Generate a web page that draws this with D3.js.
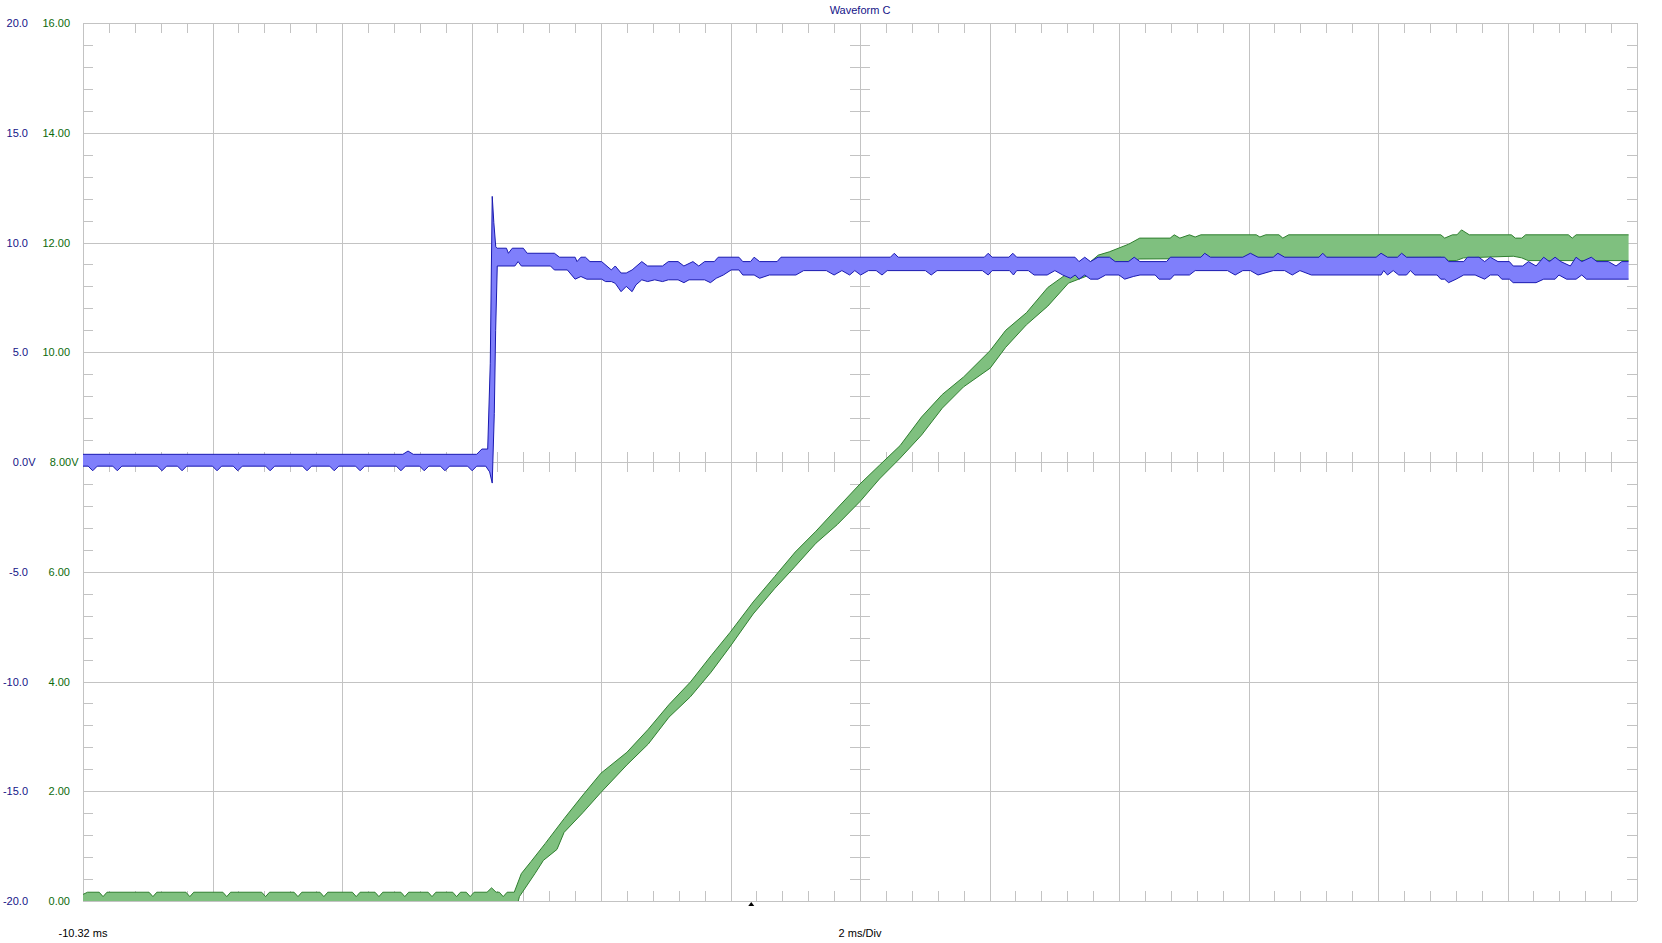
<!DOCTYPE html>
<html><head><meta charset="utf-8">
<script src="https://cdn.jsdelivr.net/npm/d3@7"></script>
<style>
html,body{margin:0;padding:0;background:#fff;overflow:hidden;}
svg{display:block;font-family:"Liberation Sans",Arial,sans-serif;}
</style></head><body>
<svg id="chart" width="1662" height="943"></svg>
<script>
// ---------------- data ----------------
const title = "Waveform C";
const timeGrid = [-10.32,-8.32,-6.32,-4.32,-2.32,-0.32,1.68,3.68,5.68,7.68,9.68,11.68,13.68];
const timeStartLabel = "-10.32 ms";
const timeBaseLabel = "2 ms/Div";
const triggerTime = 0;
const blueTicks = [20,15,10,5,0,-5,-10,-15,-20];
const blueLabels = ["20.0","15.0","10.0","5.0","0.0V","-5.0","-10.0","-15.0","-20.0"];
const greenTicks = [16,14,12,10,8,6,4,2,0];
const greenLabels = ["16.00","14.00","12.00","10.00","8.00V","6.00","4.00","2.00","0.00"];

// Channel A (blue, V) envelope: [time ms, value]
const blueUpper = [[-10.32,0.35],[-5.38,0.35],[-5.30,0.50],[-5.22,0.35],[-4.24,0.35],[-4.16,0.59],[-4.07,0.59],[-4.03,4.5],[-4.00,12.1],[-3.975,10.9],[-3.945,9.8],[-3.925,9.74],[-3.78,9.74],[-3.75,9.51],[-3.69,9.74],[-3.52,9.74],[-3.46,9.51],[-3.04,9.51],[-2.96,9.33],[-2.72,9.33],[-2.69,9.13],[-2.63,9.33],[-2.56,9.33],[-2.49,9.13],[-2.31,9.13],[-2.16,8.75],[-2.10,8.93],[-2.01,8.61],[-1.93,8.61],[-1.84,8.75],[-1.69,9.13],[-1.60,8.93],[-1.37,8.93],[-1.28,9.13],[-1.13,9.13],[-1.04,8.93],[-0.90,9.13],[-0.81,8.93],[-0.72,9.13],[-0.57,9.13],[-0.51,9.33],[-0.19,9.33],[-0.13,9.13],[-0.01,9.13],[0.045,9.33],[0.13,9.13],[0.40,9.13],[0.46,9.33],[2.15,9.33],[2.21,9.51],[2.27,9.33],[3.60,9.33],[3.66,9.51],[3.72,9.33],[3.98,9.33],[4.04,9.51],[4.10,9.33],[5.00,9.33],[5.062,9.13],[5.151,9.33],[5.239,9.13],[5.356,9.33],[5.533,9.33],[5.621,9.13],[5.827,9.13],[5.915,9.33],[6.004,9.13],[6.415,9.13],[6.474,9.33],[6.945,9.33],[7.004,9.51],[7.092,9.33],[7.592,9.33],[7.709,9.51],[7.827,9.33],[8.062,9.33],[8.133,9.51],[8.239,9.33],[8.768,9.33],[8.827,9.51],[8.886,9.33],[9.651,9.33],[9.727,9.51],[9.827,9.33],[9.98,9.33],[10.045,9.51],[10.121,9.33],[10.71,9.33],[10.77,9.13],[11.004,9.13],[11.062,9.33],[11.239,9.33],[11.327,9.13],[11.415,9.33],[11.533,9.13],[11.709,9.13],[11.768,8.93],[11.915,8.93],[12.004,9.13],[12.121,8.93],[12.239,9.33],[12.327,9.13],[12.415,9.33],[12.504,9.13],[12.65,8.93],[12.739,9.33],[12.827,9.13],[12.974,9.33],[13.062,9.13],[13.239,9.13],[13.356,8.93],[13.445,9.13],[13.55,9.13]];
const blueLower = [[-10.32,-0.19],[-10.24,-0.19],[-10.17,-0.40],[-10.10,-0.19],[-9.86,-0.19],[-9.79,-0.40],[-9.72,-0.19],[-9.17,-0.19],[-9.10,-0.40],[-9.03,-0.19],[-8.86,-0.19],[-8.79,-0.40],[-8.72,-0.19],[-8.32,-0.19],[-8.25,-0.40],[-8.18,-0.19],[-8.00,-0.19],[-7.93,-0.40],[-7.86,-0.19],[-7.50,-0.19],[-7.43,-0.40],[-7.36,-0.19],[-6.93,-0.19],[-6.86,-0.40],[-6.79,-0.19],[-6.51,-0.19],[-6.44,-0.40],[-6.37,-0.19],[-6.11,-0.19],[-6.04,-0.40],[-5.97,-0.19],[-5.48,-0.19],[-5.41,-0.40],[-5.34,-0.19],[-5.12,-0.19],[-5.05,-0.40],[-4.98,-0.19],[-4.80,-0.19],[-4.73,-0.40],[-4.66,-0.19],[-4.38,-0.19],[-4.31,-0.40],[-4.24,-0.19],[-4.10,-0.19],[-4.04,-0.45],[-4.00,-0.96],[-3.968,2.2],[-3.947,6.0],[-3.922,8.93],[-3.65,8.93],[-3.60,9.13],[-3.55,8.93],[-3.10,8.93],[-3.04,8.75],[-2.84,8.75],[-2.72,8.33],[-2.63,8.45],[-2.54,8.33],[-2.31,8.33],[-2.25,8.22],[-2.16,8.22],[-2.10,8.14],[-2.01,7.76],[-1.93,8.0],[-1.84,7.76],[-1.78,8.07],[-1.69,8.30],[-1.60,8.22],[-1.49,8.30],[-1.37,8.22],[-1.28,8.30],[-1.13,8.30],[-1.04,8.17],[-0.96,8.30],[-0.72,8.30],[-0.63,8.17],[-0.54,8.37],[-0.43,8.52],[-0.31,8.75],[-0.19,8.75],[-0.13,8.52],[0.045,8.52],[0.13,8.37],[0.28,8.52],[0.69,8.52],[0.81,8.72],[1.16,8.72],[1.28,8.52],[1.40,8.72],[1.52,8.52],[1.60,8.72],[1.69,8.52],[1.81,8.72],[1.93,8.72],[2.02,8.52],[2.10,8.72],[2.69,8.72],[2.78,8.52],[2.87,8.72],[3.57,8.72],[3.66,8.52],[3.72,8.72],[3.99,8.72],[4.05,8.52],[4.10,8.72],[4.28,8.72],[4.37,8.52],[4.57,8.52],[4.69,8.72],[4.81,8.52],[4.93,8.37],[5.004,8.52],[5.062,8.33],[5.151,8.52],[5.239,8.33],[5.356,8.33],[5.474,8.52],[5.68,8.52],[5.768,8.33],[5.90,8.45],[6.004,8.52],[6.239,8.52],[6.298,8.33],[6.474,8.33],[6.533,8.52],[6.768,8.52],[6.856,8.72],[7.356,8.72],[7.474,8.52],[7.592,8.72],[7.709,8.72],[7.827,8.52],[8.062,8.72],[8.239,8.72],[8.356,8.52],[8.474,8.72],[8.651,8.52],[9.727,8.52],[9.768,8.72],[9.827,8.52],[9.915,8.72],[10.0,8.52],[10.121,8.52],[10.18,8.72],[10.25,8.52],[10.592,8.52],[10.65,8.33],[10.71,8.33],[10.77,8.17],[10.886,8.33],[11.004,8.52],[11.18,8.52],[11.327,8.33],[11.415,8.52],[11.533,8.52],[11.592,8.33],[11.709,8.33],[11.768,8.17],[12.121,8.17],[12.239,8.33],[12.415,8.33],[12.474,8.52],[12.592,8.33],[12.739,8.33],[12.827,8.52],[12.90,8.33],[13.55,8.33]];

// Channel B (green, V) envelope: [time ms, value]
const greenUpper = [[-10.32,0.12],[-10.25,0.16],[-10.07,0.16],[-10.01,0.08],[-9.95,0.16],[-9.30,0.16],[-9.24,0.08],[-9.18,0.16],[-8.73,0.16],[-8.67,0.08],[-8.61,0.16],[-8.16,0.16],[-8.10,0.08],[-8.04,0.16],[-7.56,0.16],[-7.50,0.08],[-7.44,0.16],[-7.06,0.16],[-7.00,0.08],[-6.94,0.16],[-6.66,0.16],[-6.60,0.08],[-6.54,0.16],[-6.16,0.16],[-6.10,0.08],[-6.04,0.16],[-5.81,0.16],[-5.75,0.08],[-5.69,0.16],[-5.41,0.16],[-5.35,0.08],[-5.29,0.16],[-4.99,0.16],[-4.93,0.08],[-4.87,0.16],[-4.61,0.16],[-4.55,0.08],[-4.49,0.16],[-4.40,0.16],[-4.34,0.08],[-4.28,0.16],[-4.08,0.16],[-4.01,0.24],[-3.94,0.16],[-3.89,0.16],[-3.83,0.08],[-3.77,0.16],[-3.66,0.16],[-3.55,0.50],[-3.40,0.72],[-3.18,1.05],[-2.89,1.50],[-2.60,1.93],[-2.32,2.33],[-1.92,2.71],[-1.59,3.13],[-1.27,3.58],[-0.94,3.99],[-0.62,4.47],[-0.33,4.89],[0.03,5.45],[0.36,5.91],[0.68,6.36],[1.00,6.74],[1.33,7.16],[1.68,7.60],[1.98,7.94],[2.30,8.30],[2.63,8.82],[2.95,9.23],[3.28,9.55],[3.69,10.03],[3.93,10.40],[4.25,10.72],[4.58,11.18],[4.90,11.45],[5.23,11.64],[5.36,11.77],[5.53,11.83],[5.68,11.90],[5.83,11.97],[6.00,12.08],[6.47,12.08],[6.533,12.14],[6.62,12.08],[6.768,12.14],[6.856,12.10],[6.945,12.14],[7.80,12.14],[7.856,12.10],[7.945,12.14],[8.15,12.14],[8.21,12.08],[8.30,12.14],[10.65,12.14],[10.71,12.08],[10.83,12.14],[10.90,12.14],[10.97,12.23],[11.09,12.14],[11.74,12.14],[11.80,12.08],[11.90,12.08],[11.96,12.14],[12.62,12.14],[12.68,12.08],[12.74,12.14],[13.55,12.14]];
const greenLower = [[-10.32,-0.1],[-3.62,-0.1],[-3.58,0.08],[-3.34,0.50],[-3.21,0.74],[-3.00,0.94],[-2.89,1.25],[-2.60,1.61],[-2.32,1.98],[-1.92,2.48],[-1.59,2.86],[-1.27,3.35],[-0.94,3.72],[-0.62,4.17],[-0.33,4.63],[0.03,5.23],[0.36,5.69],[0.68,6.10],[1.00,6.52],[1.33,6.86],[1.68,7.28],[1.98,7.69],[2.30,8.07],[2.63,8.49],[2.95,8.98],[3.28,9.37],[3.69,9.71],[3.93,10.09],[4.25,10.50],[4.58,10.84],[4.90,11.26],[5.23,11.41],[5.60,11.60],[6.00,11.70],[10.65,11.73],[10.77,11.67],[10.89,11.67],[11.00,11.72],[11.77,11.75],[11.90,11.72],[12.00,11.67],[13.55,11.67]];

// ---------------- layout ----------------
const L = 83, R = 1637, T = 23, B = 901;
const svg = d3.select("#chart");
const x = d3.scaleLinear().domain([timeGrid[0], timeGrid[timeGrid.length-1]]).range([L, R]);
const yB = d3.scaleLinear().domain([-20, 20]).range([B, T]);
const yG = d3.scaleLinear().domain([0, 16]).range([B, T]);
const gridColor = "#c3c3c3";
const xc = x((timeGrid[0] + timeGrid[timeGrid.length-1]) / 2);
const yc = yB(0);

const grid = svg.append("g").attr("stroke", gridColor).attr("stroke-width", 1).attr("shape-rendering", "crispEdges");
grid.selectAll(".vg").data(timeGrid).join("line")
  .attr("x1", d => Math.round(x(d)) + 0.5).attr("x2", d => Math.round(x(d)) + 0.5)
  .attr("y1", T).attr("y2", B);
grid.selectAll(".hg").data(blueTicks).join("line")
  .attr("y1", d => Math.round(yB(d)) + 0.5).attr("y2", d => Math.round(yB(d)) + 0.5)
  .attr("x1", L).attr("x2", R);

const xMinor = d3.range(0, 61).map(k => timeGrid[0] + k * 0.4);
const yMinor = d3.range(-20, 21, 1);
const tk = 10;
function hTicks(yPos, a, b) {
  grid.append("g").selectAll("line").data(xMinor).join("line")
    .attr("x1", d => Math.round(x(d)) + 0.5).attr("x2", d => Math.round(x(d)) + 0.5)
    .attr("y1", yPos + a).attr("y2", yPos + b);
}
function vTicks(xPos, a, b) {
  grid.append("g").selectAll("line").data(yMinor).join("line")
    .attr("y1", d => Math.round(yB(d)) + 0.5).attr("y2", d => Math.round(yB(d)) + 0.5)
    .attr("x1", xPos + a).attr("x2", xPos + b);
}
hTicks(T, 0, tk);
hTicks(B, -tk, 0);
hTicks(Math.round(yc), -tk, tk);
vTicks(L, 0, tk);
vTicks(R, -tk, 0);
vTicks(Math.round(xc), -tk, tk);

svg.append("defs").append("clipPath").attr("id", "plotclip")
  .append("rect").attr("x", L).attr("y", T).attr("width", R - L).attr("height", B - T);
const traces = svg.append("g").attr("clip-path", "url(#plotclip)");

function band(upper, lower, yScale, fill, stroke) {
  const line = d3.line().x(d => x(d[0])).y(d => yScale(d[1]));
  const poly = upper.concat(lower.slice().reverse());
  traces.append("path").attr("d", line(poly) + "Z").attr("fill", fill).attr("stroke", "none");
  traces.append("path").attr("d", line(upper)).attr("fill", "none").attr("stroke", stroke).attr("stroke-width", 1).attr("stroke-linejoin", "round");
  traces.append("path").attr("d", line(lower)).attr("fill", "none").attr("stroke", stroke).attr("stroke-width", 1).attr("stroke-linejoin", "round");
}
band(greenUpper, greenLower, yG, "#7fc07f", "#2f7f2f");
band(blueUpper, blueLower, yB, "#7f7ffb", "#1a1ab0");

const fontSize = "11px";
const blueAxis = svg.append("g").attr("transform", "translate(31,0)")
  .call(d3.axisLeft(yB).tickValues(blueTicks).tickFormat((d, i) => blueLabels[i]).tickSize(0).tickPadding(3));
blueAxis.select(".domain").remove();
blueAxis.selectAll("text").attr("fill", "#141488").attr("font-size", fontSize)
  .attr("font-family", "'Liberation Sans', Arial, sans-serif")
  .filter(d => d === 0).attr("x", 4.5);

const greenAxis = svg.append("g").attr("transform", "translate(73,0)")
  .call(d3.axisLeft(yG).tickValues(greenTicks).tickFormat((d, i) => greenLabels[i]).tickSize(0).tickPadding(3));
greenAxis.select(".domain").remove();
greenAxis.selectAll("text").attr("fill", "#0c6a0c").attr("font-size", fontSize)
  .attr("font-family", "'Liberation Sans', Arial, sans-serif")
  .filter(d => d === 8).attr("x", 5.5);

svg.append("text").attr("x", xc).attr("y", 14).attr("text-anchor", "middle")
  .attr("fill", "#141488").attr("font-size", fontSize).text(title);
svg.append("text").attr("x", x(timeGrid[0])).attr("y", 937).attr("text-anchor", "middle")
  .attr("fill", "#000").attr("font-size", fontSize).text(timeStartLabel);
svg.append("text").attr("x", xc).attr("y", 937).attr("text-anchor", "middle")
  .attr("fill", "#000").attr("font-size", fontSize).text(timeBaseLabel);

const tx = x(triggerTime);
svg.append("path").attr("d", `M${tx - 3},${B + 5}L${tx + 3},${B + 5}L${tx},${B + 1}Z`).attr("fill", "#000");
</script>
</body></html>
